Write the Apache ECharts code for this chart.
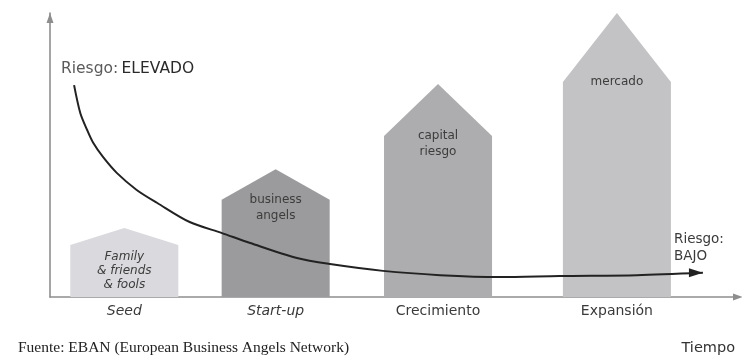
<!DOCTYPE html>
<html>
<head>
<meta charset="utf-8">
<style>
  html, body { margin: 0; padding: 0; background: #fff; }
  #chart { width: 742px; height: 360px; }
</style>
<script src="https://cdn.jsdelivr.net/npm/echarts@6/dist/echarts.min.js"></script>
</head>
<body>
<div id="chart"></div>
<script>
// Investment stages along time
const stages = ['Seed', 'Start-up', 'Crecimiento', 'Expansión'];
const stageCenters = [10.8, 32.8, 56.4, 82.4];
const wallHeights = [18.3, 34.2, 56.7, 75.7];
const peakHeights = [24.3, 45.0, 75.0, 100];
const investors = ['Family\n& friends\n& fools', 'business\nangels', 'capital\nriesgo', 'mercado'];

// Risk curve (falls from high to low as the company matures)
const riskX = [3.5, 4.4, 5.4, 6.3, 7.7, 9.7, 12.6, 15.6, 20.3, 25.0, 29.1, 35.9, 40.7, 48.4, 56.7, 65.4, 74.1, 85.3, 94.9];
const riskY = [74.6, 64.8, 58.8, 54.2, 49.3, 43.7, 37.7, 33.1, 26.4, 22.5, 19.0, 13.7, 11.6, 9.2, 7.7, 7.0, 7.4, 7.7, 8.5];

const houseColors = ['#d9d9de', '#9b9b9d', '#adadaf', '#c3c3c5'];
const HALF_WIDTH = 7.85;
const SANS = '"DejaVu Sans", "Open Sans", sans-serif';

const chart = echarts.init(document.getElementById('chart'), null, { renderer: 'canvas' });

const axisCommon = {
  type: 'value',
  min: 0,
  max: 100,
  axisTick: { show: false },
  axisLabel: { show: false },
  splitLine: { show: false },
  axisLine: {
    show: true,
    lineStyle: { color: '#8e8e8e', width: 1.6 },
    symbol: ['none', 'triangle'],
    symbolSize: [7, 10],
    symbolOffset: [0, -5]
  }
};

chart.setOption({
  animation: false,
  grid: { left: 50, right: 4, top: 13, bottom: 63 },
  xAxis: Object.assign({}, axisCommon, { axisLine: Object.assign({}, axisCommon.axisLine, { symbolOffset: [0, 0] }) }),
  yAxis: axisCommon,
  graphic: [
    {
      type: 'text', left: 61, top: 61,
      style: {
        text: '{a|Riesgo:} {b|ELEVADO}',
        rich: {
          a: { font: '15.5px ' + SANS, fill: '#5a5a5a' },
          b: { font: '15.5px ' + SANS, fill: '#2a2a2a' }
        }
      }
    },
    {
      type: 'text', left: 674, top: 231,
      style: { text: 'Riesgo:\nBAJO', font: '13.5px ' + SANS, fill: '#3a3a3a', lineHeight: 17 }
    },
    {
      type: 'text', left: 18, top: 340,
      style: { text: 'Fuente: EBAN (European Business Angels Network)', font: '15.5px "Liberation Serif", serif', fill: '#222' }
    },
    {
      type: 'text', right: 7, top: 341,
      style: { text: 'Tiempo', font: '14.5px ' + SANS, fill: '#333' }
    }
  ],
  series: [
    {
      type: 'custom',
      clip: false,
      data: stageCenters.map((c, i) => [c, wallHeights[i], peakHeights[i]]),
      renderItem: function (params, api) {
        const i = params.dataIndex;
        const cx = api.value(0), wall = api.value(1), peak = api.value(2);
        const bl = api.coord([cx - HALF_WIDTH, 0]);
        const br = api.coord([cx + HALF_WIDTH, 0]);
        const wl = api.coord([cx - HALF_WIDTH, wall]);
        const wr = api.coord([cx + HALF_WIDTH, wall]);
        const top = api.coord([cx, peak]);
        const italic = i < 2;
        return {
          type: 'group',
          children: [
            {
              type: 'polygon',
              shape: { points: [bl, wl, top, wr, br] },
              style: { fill: houseColors[i] }
            },
            {
              type: 'text',
              x: top[0],
              y: wl[1] + (i === 0 ? 5 : -8),
              style: {
                text: investors[i],
                font: (i === 0 ? 'italic ' : '') + '12px ' + SANS,
                fill: '#3c3c3c',
                align: 'center',
                verticalAlign: 'top',
                lineHeight: i === 0 ? 14 : 16
              }
            },
            {
              type: 'text',
              x: top[0],
              y: bl[1] + 14,
              style: {
                text: stages[i],
                font: (italic ? 'italic ' : '') + '14px ' + SANS,
                fill: '#3a3a3a',
                align: 'center',
                verticalAlign: 'middle'
              }
            }
          ]
        };
      },
      z: 1
    },
    {
      type: 'line',
      data: riskX.map((x, i) => [x, riskY[i]]),
      smooth: 0.3,
      showSymbol: false,
      symbol: 'none',
      lineStyle: { color: '#222', width: 2 },
      z: 3
    },
    {
      // arrowhead at the end of the risk curve
      type: 'custom',
      clip: false,
      data: [[riskX[riskX.length - 1], riskY[riskY.length - 1]]],
      renderItem: function (params, api) {
        const tip = api.coord([api.value(0), api.value(1)]);
        const len = 14, hw = 4.5;
        return {
          type: 'polygon',
          shape: { points: [tip, [tip[0] - len, tip[1] - hw], [tip[0] - len, tip[1] + hw]] },
          style: { fill: '#222' }
        };
      },
      z: 4
    }
  ]
});
</script>
</body>
</html>
